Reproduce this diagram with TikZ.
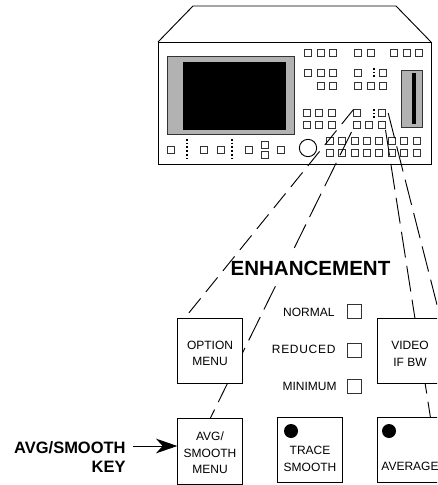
\documentclass[tikz,border=0pt]{standalone}
\usepackage{fontspec}
\setmainfont{Liberation Sans}
\usetikzlibrary{arrows.meta}
\definecolor{panelgray}{HTML}{B2B2B2}
\tikzset{
	longdash/.style={dash pattern=on 19.5pt off 6.3pt},
	shortdash/.style={dash pattern=on 14pt off 6.25pt},
	keysq/.style={draw=black!80, minimum size=5.25pt, inner sep=0pt, outer sep=0pt},
	dotcol/.style={line width=1pt, dash pattern=on 1.2pt off 1.6pt},
	keybox/.style={draw, fill=white, minimum size=49pt, inner sep=0pt, outer sep=0pt},
	keytext/.style={align=center, inner sep=0pt, font=\fontsize{9}{12.5}\selectfont},
	enhtext/.style={anchor=east, inner sep=0pt, font=\fontsize{9}{11}\selectfont},
	enhbox/.style={draw=black!80, minimum size=10.5pt, inner sep=0pt, outer sep=0pt}
}

\begin{document}
\begin{tikzpicture}[x=0.75pt, y=-0.75pt, line width=0.7pt]
	\useasboundingbox (0,0) rectangle (437,485);
	\clip (0,0) rectangle (437,485);
	
	% analyzer
	\draw (158,42) -- (193,6) -- (396,6) -- (431,42);
	\draw (158,42) rectangle (431,164);
	\draw[fill=panelgray, draw=black!80] (167,56) rectangle (294,134);
	\fill (183,62) rectangle (286,130);
	\draw[fill=panelgray, draw=black!80] (401,70) rectangle (422,127);
	\fill (412,73) rectangle (416,124);
	\node[draw, circle, minimum size=13pt, inner sep=0pt] (knob) at (308,148) {};
	
	% panel keys
	\foreach \px in {308,321,333,358,371,394,407,419}
		\node[keysq] (rowa-\px) at (\px,53) {};
	\foreach \px in {308,321,333,358,383}
		\node[keysq] (rowb-\px) at (\px,73) {};
	\foreach \px in {321,333,358,371,383}
		\node[keysq] (rowc-\px) at (\px,86) {};
	\foreach \px in {307,319,332,357,382}
		\node[keysq] (rowd-\px) at (\px,113) {};
	\foreach \px in {307,319,332,357,369,382}
		\node[keysq] (rowe-\px) at (\px,125) {};
	\foreach \px in {330,342,355,367,379,392,404,417} {
		\node[keysq] (rowf-\px) at (\px,141) {};
		\node[keysq] (rowg-\px) at (\px,153) {};
	}
	\foreach \px/\py in {171/150,204/150,221/150,249/150,265/145,265/155,281/150}
		\node[keysq] (low-\px-\py) at (\px,\py) {};
	\draw[dotcol] (374,68) -- (374,79);
	\draw[dotcol] (374,109) -- (374,120);
	\draw[dotcol] (187,139) -- (187,161);
	\draw[dotcol] (232,139) -- (232,161);
	
	% keys below the analyzer
	\coordinate (avgstart) at ([shift={(-1.5pt,-2.6pt)}]rowe-357.south west);
	\coordinate (videostart) at ([xshift=2pt]rowd-382.east);
	\coordinate (averagestart) at ([yshift=-1pt]rowe-382.south east);
	\node[keybox] (averagekey) at (410,450) {};
	\node[keybox] (avgmenu) at (210,451.5) {};
	\draw[longdash] (avgstart) -- (avgmenu.north);
	\draw[longdash] (averagestart) -- (averagekey.58);
	\node[keybox] (optionmenu) at (210,351) {};
	\node[keybox] (videokey) at (410,351) {};
	\draw[longdash] (videostart) -- (videokey.47.7);
	\node[keybox] (tracekey) at (310,450) {};
	
	\node[fill=white, inner sep=0pt, minimum height=21pt, font=\fontsize{15.4}{18}\selectfont\bfseries] (enhtitle) at (310.5,268) {ENHANCEMENT};
	\draw[shortdash] (rowd-357.north west) -- (optionmenu.128);
	
	\node[keytext] (optiontext) at (210,353.5) {OPTION\\MENU};
	\node[keytext] (videotext) at (410,353.5) {VIDEO\\IF BW};
	\node[keytext] (avgtext) at (210,453) {AVG/\\SMOOTH\\MENU};
	\node[keytext] (tracetext) at (310,459) {TRACE\\SMOOTH};
	\node[keytext] (averagetext) at (410,466) {AVERAGE};
	\node[circle, fill, minimum size=10.5pt, inner sep=0pt] (tracedot) at (291,431) {};
	\node[circle, fill, minimum size=10.5pt, inner sep=0pt] (averagedot) at (389,431) {};
	
	% enhancement settings
	\node[enhtext] (normaltext) at (335,312) {NORMAL};
	\node[enhtext] (reducedtext) at (336,349) {\addfontfeature{LetterSpace=6}REDUCED};
	\node[enhtext] (minimumtext) at (337,386) {MINIMUM};
	\node[enhbox] (normalbox) at (354,311) {};
	\node[enhbox] (reducedbox) at (354,350) {};
	\node[enhbox] (minimumbox) at (354,386) {};
	
	\node[align=right, anchor=east, inner sep=0pt, font=\fontsize{12.35}{14.25}\selectfont\bfseries] (keylabel) at (126,457) {AVG/SMOOTH\\KEY};
	\coordinate (keytail) at (133,446);
	\draw[-{Stealth[length=16pt, width=11pt, inset=5pt]}] (keytail) -- (keytail -| avgmenu.west);
\end{tikzpicture}
\end{document}
